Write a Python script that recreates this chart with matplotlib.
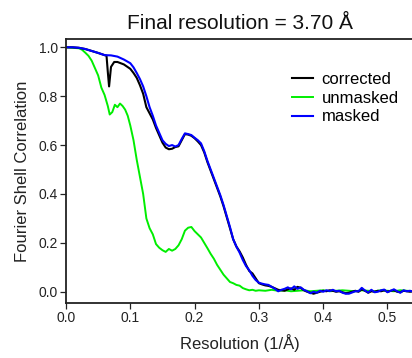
import matplotlib
matplotlib.use("Agg")
import matplotlib.pyplot as plt

plt.rcParams['font.family'] = ['Liberation Sans', 'DejaVu Sans']

# ---- data ----
masked_x = [0, 0.01, 0.02, 0.03, 0.04, 0.05, 0.06, 0.07, 0.08, 0.09, 0.10, 0.105, 0.11, 0.115,
            0.12, 0.125, 0.13, 0.135, 0.14, 0.145, 0.15, 0.155, 0.16, 0.165, 0.17, 0.175, 0.18,
            0.185, 0.19, 0.195, 0.20, 0.205, 0.21, 0.215, 0.22, 0.225, 0.23, 0.235, 0.24, 0.245,
            0.25, 0.255, 0.26, 0.265, 0.27, 0.275, 0.28, 0.285, 0.29, 0.295, 0.30, 0.305, 0.31,
            0.315, 0.32, 0.325, 0.33, 0.335, 0.34, 0.345, 0.35, 0.355, 0.36, 0.365, 0.37, 0.375,
            0.38, 0.385, 0.39, 0.395, 0.40, 0.405, 0.41, 0.415, 0.42, 0.425, 0.43, 0.435, 0.44,
            0.445, 0.45, 0.455, 0.46, 0.465, 0.47, 0.475, 0.48, 0.485, 0.49, 0.495, 0.50, 0.505,
            0.51, 0.515, 0.52, 0.525, 0.53, 0.535, 0.54]
masked_y = [1.0, 1.0, 0.998, 0.993, 0.985, 0.977, 0.968, 0.967, 0.962, 0.950, 0.935, 0.918, 0.895, 0.87,
            0.84, 0.80, 0.755, 0.72, 0.68, 0.65, 0.62, 0.605, 0.596, 0.60, 0.594, 0.60, 0.625,
            0.648, 0.645, 0.641, 0.63, 0.62, 0.607, 0.575, 0.535, 0.50, 0.465, 0.43, 0.395, 0.355,
            0.31, 0.265, 0.215, 0.185, 0.16, 0.13, 0.105, 0.088, 0.065, 0.048, 0.037, 0.033, 0.030,
            0.028, 0.020, 0.012, 0.002, 0.008, 0.012, 0.018, 0.010, 0.022, 0.012, 0.018, 0.008, 0.002,
            -0.006, 0.000, -0.004, 0.004, 0.000, 0.006, 0.003, 0.008, 0.002, 0.004, -0.004, -0.008, -0.008,
            -0.003, 0.002, 0.002, 0.016, 0.005, -0.003, 0.008, -0.002, 0.000, 0.006, 0.009, -0.002, 0.004,
            0.010, 0.002, -0.004, 0.006, 0.002, 0.004, 0.000]

corrected_x = [0, 0.01, 0.02, 0.03, 0.04, 0.05, 0.06, 0.063, 0.065, 0.067, 0.07, 0.075, 0.08, 0.09,
               0.10, 0.105, 0.11, 0.115, 0.12, 0.125, 0.13, 0.135, 0.14, 0.145, 0.15, 0.155, 0.16,
               0.165, 0.17, 0.175, 0.18, 0.185, 0.19, 0.195, 0.20, 0.205, 0.21, 0.215, 0.22, 0.225,
               0.23, 0.235, 0.24, 0.245, 0.25, 0.255, 0.26, 0.265, 0.27, 0.275, 0.28, 0.285, 0.29,
               0.295, 0.30, 0.305, 0.31, 0.315, 0.32, 0.325, 0.33, 0.335, 0.34, 0.345, 0.35, 0.355,
               0.36, 0.365, 0.37, 0.375, 0.38, 0.385, 0.39, 0.395, 0.40, 0.405, 0.41, 0.415, 0.42,
               0.425, 0.43, 0.435, 0.44, 0.445, 0.45, 0.455, 0.46, 0.465, 0.47, 0.475, 0.48, 0.485,
               0.49, 0.495, 0.50, 0.505, 0.51, 0.515, 0.52, 0.525, 0.53, 0.535, 0.54]
corrected_y = [1.0, 1.0, 0.998, 0.993, 0.985, 0.977, 0.968, 0.966, 0.90, 0.84, 0.92, 0.94, 0.94, 0.93,
               0.912, 0.895, 0.875, 0.845, 0.81, 0.755, 0.73, 0.705, 0.67, 0.64, 0.61, 0.59, 0.583,
               0.585, 0.592, 0.595, 0.62, 0.645, 0.643, 0.638, 0.628, 0.615, 0.60, 0.57, 0.53, 0.495,
               0.46, 0.425, 0.39, 0.35, 0.305, 0.26, 0.215, 0.185, 0.165, 0.14, 0.11, 0.085, 0.075,
               0.055, 0.035, 0.030, 0.026, 0.024, 0.020, 0.014, 0.008, 0.006, 0.004, 0.010, 0.014, 0.008,
               0.020, 0.016, 0.006, 0.000, -0.004, -0.008, -0.004, 0.000, 0.004, 0.002, 0.006, 0.004, 0.000,
               0.002, -0.002, -0.006, -0.004, 0.000, 0.004, 0.000, 0.010, 0.004, -0.004, 0.002, 0.000, 0.004,
               0.002, 0.006, 0.000, 0.004, 0.006, 0.000, -0.002, 0.004, 0.002, 0.000, 0.002]

unmasked_x = [0, 0.01, 0.02, 0.025, 0.03, 0.035, 0.04, 0.045, 0.05, 0.055, 0.06, 0.065, 0.068, 0.072,
              0.076, 0.08, 0.084, 0.088, 0.092, 0.096, 0.10, 0.105, 0.11, 0.115, 0.12, 0.125, 0.13,
              0.135, 0.14, 0.145, 0.15, 0.155, 0.16, 0.165, 0.17, 0.175, 0.18, 0.185, 0.19, 0.195,
              0.20, 0.205, 0.21, 0.215, 0.22, 0.225, 0.23, 0.235, 0.24, 0.245, 0.25, 0.255, 0.26,
              0.265, 0.27, 0.275, 0.28, 0.285, 0.29, 0.295, 0.30, 0.31, 0.32, 0.33, 0.34, 0.35, 0.36,
              0.37, 0.38, 0.39, 0.40, 0.41, 0.42, 0.43, 0.44, 0.45, 0.46, 0.47, 0.48, 0.49, 0.50,
              0.51, 0.52, 0.53, 0.54]
unmasked_y = [1.0, 0.998, 0.996, 0.99, 0.978, 0.965, 0.945, 0.915, 0.885, 0.835, 0.805, 0.76, 0.725, 0.735,
              0.765, 0.755, 0.77, 0.76, 0.745, 0.72, 0.68, 0.62, 0.54, 0.47, 0.40, 0.30, 0.26,
              0.235, 0.195, 0.18, 0.17, 0.163, 0.175, 0.168, 0.175, 0.19, 0.215, 0.25, 0.262, 0.265,
              0.248, 0.235, 0.222, 0.20, 0.178, 0.155, 0.135, 0.11, 0.09, 0.07, 0.055, 0.04, 0.035,
              0.028, 0.025, 0.015, 0.010, 0.006, 0.008, 0.004, 0.006, 0.004, 0.008, 0.004, 0.006, 0.002, 0.004,
              0.006, 0.002, 0.004, 0.006, 0.002, 0.004, 0.006, 0.004, 0.002, 0.006, 0.004, 0.002, 0.006, 0.004,
              0.002, 0.006, 0.004, 0.002]

title = "Final resolution = 3.70 Å"
xlabel = "Resolution (1/Å)"
ylabel = "Fourier Shell Correlation"
xticks = [0.0, 0.1, 0.2, 0.3, 0.4, 0.5]
yticks = [0.0, 0.2, 0.4, 0.6, 0.8, 1.0]

fig = plt.figure(figsize=(4.12, 3.58), dpi=100)
ax = fig.add_axes([66/412, 55/358, 347.2/412, 264/358])

lg, = ax.plot(unmasked_x, unmasked_y, color='#00ee00', lw=1.4, label='unmasked')
lk, = ax.plot(corrected_x, corrected_y, color='black', lw=1.5, label='corrected')
lb, = ax.plot(masked_x, masked_y, color='#0000ff', lw=1.5, label='masked')

ax.set_xlim(0, 0.54)
ax.set_ylim(-0.046, 1.034)
ax.set_xticks(xticks)
ax.set_xticklabels([f"{v:.1f}" for v in xticks])
ax.set_yticks(yticks)
ax.set_yticklabels([f"{v:.1f}" for v in yticks])
ax.tick_params(direction='out', length=4.5, width=0.9, labelsize=10, colors='#222222', pad=1.5)
for s in ax.spines.values():
    s.set_linewidth(1.3)
    s.set_color('#222222')

ax.set_title(title, fontsize=15, pad=7, color='#111111')
ax.set_xlabel(xlabel, fontsize=12, labelpad=6, color='#222222')
ax.set_ylabel(ylabel, fontsize=12, labelpad=6, color='#222222')

ax.legend([lk, lg, lb], ['corrected', 'unmasked', 'masked'], loc='upper left',
          bbox_to_anchor=(0.65, 0.875), frameon=False, fontsize=12,
          handlelength=1.3, handletextpad=0.5, labelspacing=0.22,
          borderpad=0, borderaxespad=0)

fig.savefig('out.png', dpi=100)
